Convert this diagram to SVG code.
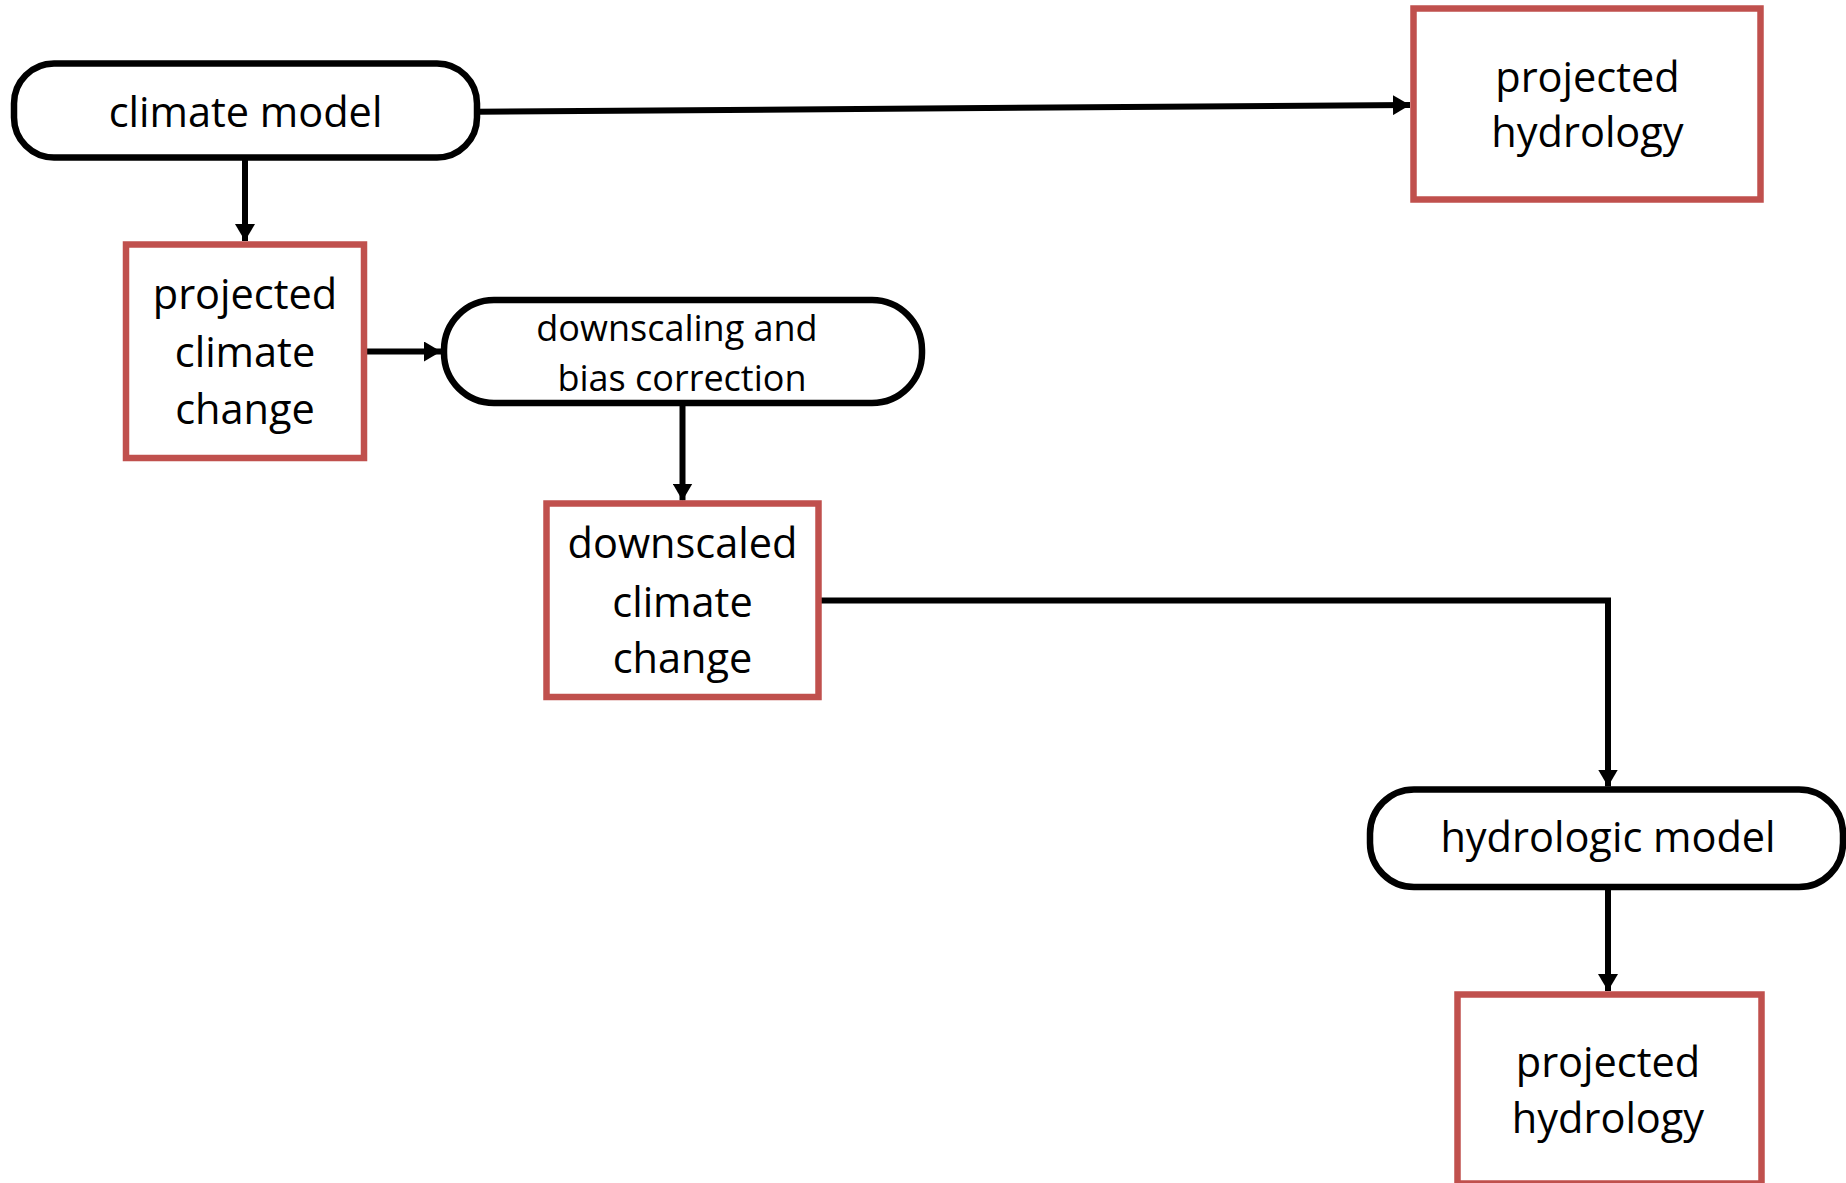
<svg xmlns="http://www.w3.org/2000/svg" width="1846" height="1183" viewBox="0 0 1846 1183">
<defs>
<style>
.pill{fill:#fff;stroke:#000;stroke-width:6.5}
.box{fill:#fff;stroke:#C0504D;stroke-width:6.5}
.t{font-family:"Open Sans","Noto Sans",sans-serif;font-size:41.5px;fill:#000;text-anchor:middle}
.ts{font-family:"Open Sans","Noto Sans",sans-serif;font-size:36px;fill:#000;text-anchor:middle}
.c{fill:none;stroke:#000;stroke-width:6;marker-end:url(#ah)}
</style>
<marker id="ah" viewBox="0 0 17 20" refX="17" refY="10" markerWidth="17" markerHeight="20" markerUnits="userSpaceOnUse" orient="auto">
<path d="M0,0 L17,10 L0,20 Z" fill="#000"/>
</marker>
</defs>
<rect width="1846" height="1183" fill="#fff"/>
<g id="connectors">
<path class="c" d="M477,111.7 L1410,105"/>
<path class="c" d="M245,157.5 L245,241"/>
<path class="c" d="M367,351.5 L441,351.5"/>
<path class="c" d="M682.5,403 L682.5,500.5"/>
<path class="c" d="M820,600.5 L1608,600.5 L1608,786.5"/>
<path class="c" d="M1608,887 L1608,991"/>
</g>
<g id="climate-model">
<rect class="pill" x="14" y="63.5" width="463" height="94" rx="40" ry="40"/>
<text class="t" x="245.5" y="127">climate model</text>
</g>
<g id="projected-hydrology-top">
<rect class="box" x="1413.5" y="8.5" width="347" height="191"/>
<text class="t" x="1587.5" y="92">projected</text>
<text class="t" x="1587.5" y="147">hydrology</text>
</g>
<g id="projected-climate-change">
<rect class="box" x="126" y="244.5" width="238" height="213.5"/>
<text class="t" x="245" y="309">projected</text>
<text class="t" x="245" y="367">climate</text>
<text class="t" x="245" y="424">change</text>
</g>
<g id="downscaling">
<rect class="pill" x="444" y="300" width="478" height="103" rx="50" ry="50"/>
<text class="ts" x="677" y="341">downscaling and</text>
<text class="ts" x="682" y="391">bias correction</text>
</g>
<g id="downscaled-climate-change">
<rect class="box" x="546.5" y="503.5" width="272" height="193.5"/>
<text class="t" x="682.5" y="558">downscaled</text>
<text class="t" x="682.5" y="617">climate</text>
<text class="t" x="682.5" y="673">change</text>
</g>
<g id="hydrologic-model">
<rect class="pill" x="1370" y="789.5" width="473" height="97.5" rx="44" ry="44"/>
<text class="t" x="1608" y="852">hydrologic model</text>
</g>
<g id="projected-hydrology-bottom">
<rect class="box" x="1457.5" y="994.5" width="304" height="189"/>
<text class="t" x="1608" y="1077">projected</text>
<text class="t" x="1608" y="1133">hydrology</text>
</g>
</svg>
